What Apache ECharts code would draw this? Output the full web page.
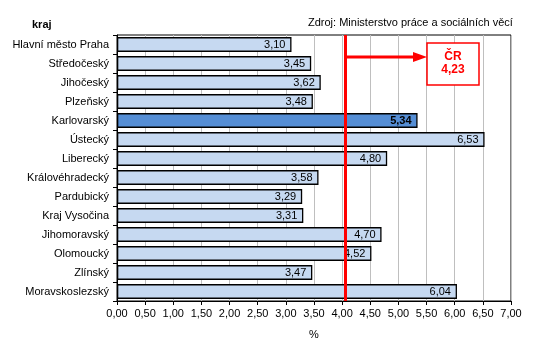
<!DOCTYPE html>
<html>
<head>
<meta charset="utf-8">
<script src="https://cdn.jsdelivr.net/npm/echarts@6/dist/echarts.min.js"></script>
<style>
html,body{margin:0;padding:0;background:#fff;}
#c{width:535px;height:361px;}
</style>
</head>
<body>
<div id="c"></div>
<script>
const categories = ["Hlavní město Praha","Středočeský","Jihočeský","Plzeňský","Karlovarský","Ústecký","Liberecký","Královéhradecký","Pardubický","Kraj Vysočina","Jihomoravský","Olomoucký","Zlínský","Moravskoslezský"];
const values = [3.10,3.45,3.62,3.48,5.34,6.53,4.80,3.58,3.29,3.31,4.70,4.52,3.47,6.04];
const highlightIndex = 4;
const crValue = 4.23;
const crLinePosition = 4.05;

const fmt = v => v.toFixed(2).replace('.', ',');
const FONT = '"Liberation Sans", Arial, sans-serif';

const chart = echarts.init(document.getElementById('c'), null, {renderer: 'canvas'});

const data = values.map((v, i) => ({
  value: v,
  itemStyle: {color: i === highlightIndex ? '#558ED5' : '#C6D9F1'},
  label: i === highlightIndex ? {fontWeight: 'bold'} : undefined
}));

chart.setOption({
  animation: false,
  grid: {left: 117, right: 24, top: 35, bottom: 60, show: true, borderColor: '#000', borderWidth: 1, backgroundColor: 'transparent'},
  xAxis: {
    type: 'value', min: 0, max: 7, interval: 0.5,
    name: '%', nameLocation: 'middle', nameGap: 28,
    nameTextStyle: {fontFamily: FONT, fontSize: 11, color: '#000'},
    axisLine: {show: true, lineStyle: {color: '#000', width: 1}},
    axisTick: {show: true, length: 4, lineStyle: {color: '#000'}},
    axisLabel: {fontFamily: FONT, fontSize: 11, color: '#000', margin: 7, formatter: v => fmt(v)},
    splitLine: {show: true, lineStyle: {color: '#BFBFBF', width: 1}}
  },
  yAxis: {
    type: 'category', data: categories, inverse: true,
    axisLine: {show: true, lineStyle: {color: '#000', width: 1}},
    axisTick: {show: true, length: 4, lineStyle: {color: '#000'}},
    axisLabel: {fontFamily: FONT, fontSize: 11, color: '#000', margin: 8},
    splitLine: {show: false}
  },
  series: [{
    type: 'bar',
    data: data,
    barCategoryGap: '22%',
    itemStyle: {borderColor: '#000', borderWidth: 1.3},
    label: {show: true, position: 'insideRight', distance: 6, fontFamily: FONT, fontSize: 11, color: '#000', formatter: p => fmt(p.value)},
    markLine: {
      silent: true, symbol: 'none', label: {show: false},
      lineStyle: {color: '#FF0000', width: 3, type: 'solid'},
      data: [{xAxis: crLinePosition}]
    }
  }]
});

// annotation anchored to the reference line position
const lx = chart.convertToPixel({gridIndex: 0}, [crLinePosition, 0])[0];
const boxL = 427, boxT = 43, boxW = 52, boxH = 42, ay = 57;
chart.setOption({
  graphic: [
    {type: 'text', left: 32, top: 19, style: {text: 'kraj', font: 'bold 11px ' + FONT, fill: '#000'}},
    {type: 'text', left: 308, top: 17, style: {text: 'Zdroj: Ministerstvo práce a sociálních věcí', font: '11px ' + FONT, fill: '#000'}},
    {type: 'line', shape: {x1: lx, y1: ay, x2: boxL - 12, y2: ay}, style: {stroke: '#FF0000', lineWidth: 3}, z: 100},
    {type: 'polygon', shape: {points: [[boxL, ay], [boxL - 14, ay - 5], [boxL - 14, ay + 5]]}, style: {fill: '#FF0000'}, z: 100},
    {type: 'rect', shape: {x: boxL, y: boxT, width: boxW, height: boxH}, style: {fill: '#fff', stroke: '#FF0000', lineWidth: 1.5}, z: 100},
    {type: 'text', x: boxL + boxW / 2, y: boxT + 14, style: {text: 'ČR', font: 'bold 12px ' + FONT, fill: '#FF0000', align: 'center', verticalAlign: 'middle'}, z: 101},
    {type: 'text', x: boxL + boxW / 2, y: boxT + 27, style: {text: fmt(crValue), font: 'bold 12px ' + FONT, fill: '#FF0000', align: 'center', verticalAlign: 'middle'}, z: 101}
  ]
});
</script>
</body>
</html>
